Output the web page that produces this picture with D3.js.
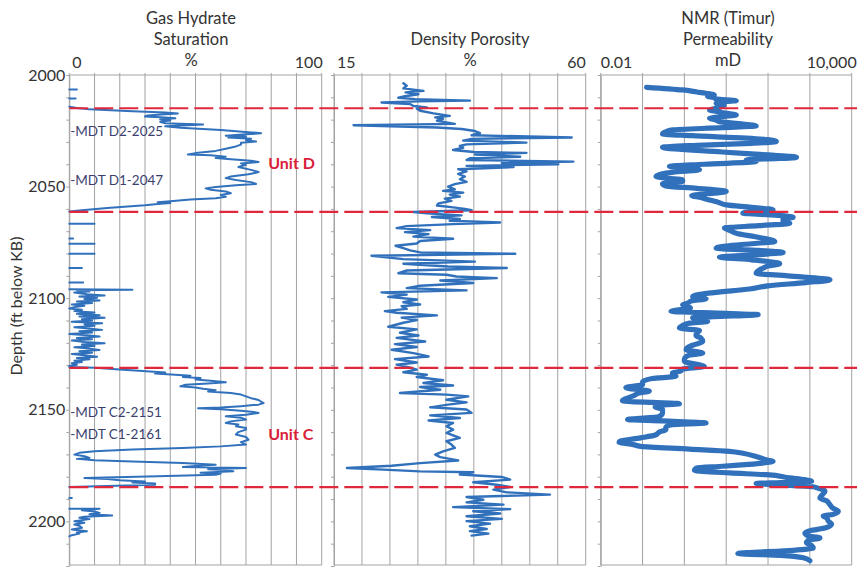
<!DOCTYPE html>
<html><head><meta charset="utf-8">
<script src="https://cdn.jsdelivr.net/npm/d3@7"></script>
<style>
body{margin:0;background:#fff;}
svg{display:block;font-family:Lato,"Open Sans",sans-serif;}
</style></head><body><svg id="chart" width="857" height="567"></svg>
<script>
// ---------- data ----------
const depthDomain = [2000, 2220];
const depthTicks = [2000, 2050, 2100, 2150, 2200];
const unitBoundaries = [2014.9, 2061.3, 2131.2, 2184.7];
const unitNames = ["Unit D", "Unit C"];
const mdtLabels = ["-MDT D2-2025", "-MDT D1-2047", "-MDT C2-2151", "-MDT C1-2161"];
const mdtDepths = [2025, 2047, 2151, 2161];

const ghTitle = ["Gas Hydrate", "Saturation", "%"];
const dpTitle = ["Density Porosity", "%"];
const nmrTitle = ["NMR (Timur)", "Permeability", "mD"];
const ghTickLabels = ["0", "100"];
const dpTickLabels = ["15", "60"];
const nmrTickLabels = ["0.01", "10,000"];

// Gas hydrate saturation (%) : [depth ft, value]; null = gap
const gasHydrate = [
 [2006.5,0],[2006.5,3],[2006.6,null],
 [2010.5,0],[2010.5,2.5],[2010.6,null],
 [2014.2,0],[2014.8,3],[2015.4,8],[2016.2,25],[2016.8,38],[2017.2,43],[2017.6,38],[2018.1,31],[2018.6,30],
 [2019.0,38],[2019.4,42],[2019.9,36],[2020.4,40],[2021.0,36],[2021.6,38],[2022.2,53],[2022.6,45],[2023.0,38],
 [2023.6,44],[2024.6,60],[2025.6,71],[2026.1,76],[2026.6,70],[2027.2,62],[2027.6,70],[2028.0,63],[2028.6,72],
 [2029.2,70],[2029.8,74],[2030.4,68],[2031.2,68],[2032.0,66],[2033.0,62],[2034.0,58],[2035.0,50],[2035.6,47],
 [2036.0,56],[2036.6,62],[2037.2,58],[2037.8,64],[2038.4,72],[2039.0,75],[2039.6,68],[2040.2,70],[2041.2,67],
 [2042.5,72],[2043.5,75],[2044.5,71],[2045.5,64],[2046.2,62],[2047.0,66],[2048.0,72],[2048.8,74],[2049.4,66],
 [2050.2,58],[2050.8,54],[2051.4,56],[2052.2,62],[2053.0,64],[2053.8,60],[2054.6,62],[2055.2,58],[2055.8,48],
 [2056.6,40],[2057.0,35],[2057.4,40],[2057.8,35],[2058.4,30],[2059.6,15],[2060.6,5],[2061.2,0],[2061.3,null],
 [2066.7,0],[2066.7,10],[2066.8,null],
 [2073.3,0],[2073.3,1.5],[2073.4,null],
 [2075.6,0],[2075.6,10],[2075.7,null],
 [2080.1,0],[2080.1,10],[2080.2,null],
 [2086.5,0],[2086.5,5],[2086.6,null],
 [2093.0,0],[2093.0,5.5],[2093.1,null],
 [2096.0,0],[2096.2,25],[2096.5,3],[2097.0,8],[2097.5,2],[2098.2,7],[2098.8,14],[2099.3,4],[2099.8,11],
 [2100.4,6],[2101.0,12],[2101.5,3],[2102.2,9],[2102.8,1],[2103.4,6],[2104.0,2],[2104.6,0],[2105.2,5],
 [2105.8,2],[2106.4,10],[2107.0,3],[2107.6,12],[2108.2,4],[2108.8,14],[2109.4,5],[2110.0,9],[2110.6,1],
 [2111.2,13],[2111.8,6],[2112.4,10],[2113.0,2],[2113.6,8],[2114.2,13],[2114.8,4],[2115.4,9],[2116.0,0],
 [2116.6,7],[2117.2,12],[2117.8,3],[2118.4,9],[2119.0,1],[2119.6,6],[2120.2,14],[2120.8,5],[2121.4,10],
 [2122.0,2],[2122.6,8],[2123.2,12],[2123.8,4],[2124.4,9],[2125.0,1],[2125.6,6],[2126.2,11],[2126.8,3],
 [2127.4,8],[2128.0,2],[2128.6,5],[2129.2,1],[2129.8,3],[2130.4,0],
 [2130.8,0],[2131.2,10],[2132.0,20],[2132.8,32],[2133.3,38],[2133.8,34],[2134.3,42],[2134.8,48],[2135.3,45],
 [2135.8,52],[2136.4,50],[2137.0,56],[2137.7,62],[2138.2,55],[2138.8,46],[2139.5,44],[2140.0,50],[2140.6,53],
 [2141.2,58],[2141.8,55],[2142.5,64],[2143.2,68],[2144.0,70],[2144.8,72],[2145.6,75],[2146.4,76],[2147.0,77],
 [2147.7,75],[2148.4,68],[2149.0,60],[2149.3,51],[2149.8,60],[2150.4,68],[2151.0,73],[2151.4,75],[2152.2,70],
 [2152.9,62],[2153.6,68],[2154.4,70],[2155.2,64],[2155.9,62],[2156.6,67],[2157.4,66],[2158.2,70],[2158.9,70],
 [2160.0,67],[2161.1,66],[2162.2,70],[2163.4,71],[2164.5,68],[2165.6,70],[2166.4,60],[2167.1,45],[2167.8,25],
 [2168.6,10],[2169.3,4],[2170.1,2],[2170.8,6],[2171.6,8],[2172.0,3],[2172.6,10],[2173.2,25],[2173.9,45],
 [2174.6,58],[2175.2,50],[2175.6,45],[2176.1,70],[2176.6,55],[2177.0,62],[2177.6,65],[2178.2,52],[2178.6,60],
 [2179.1,58],[2179.8,35],[2180.6,6],[2181.0,15],[2181.6,20],[2182.1,30],[2182.6,25],[2183.0,34],[2183.6,34],
 [2184.2,15],[2184.6,0],[2184.7,null],
 [2189.5,0],[2189.5,1],[2189.6,null],
 [2194.4,0],[2194.4,12],[2195.0,5],[2195.6,10],[2196.2,12],[2196.8,8],[2197.4,17],[2197.9,6],[2198.4,4],
 [2199.0,8],[2199.9,2],[2200.6,6],[2201.4,2],[2202.0,4],[2202.9,5],[2203.6,1],[2204.4,7],[2205.0,3],
 [2205.5,4],[2206.2,1],[2206.7,0]
];

// Density porosity (%) : [depth ft, value]
const densityPorosity = [
 [2003.7,27.4],[2004.8,28.0],[2006.0,27.4],[2007.1,31.0],[2007.8,27.8],[2008.6,30.1],[2009.5,27.7],[2010.2,26.5],
 [2010.8,29.5],[2011.5,39.3],[2011.8,30.0],[2012.3,23.5],[2013.0,28.6],[2013.9,29.2],[2014.5,31.6],[2015.1,29.8],
 [2016.0,30.4],[2017.2,32.8],[2018.3,35.7],[2019.0,33.1],[2019.7,34.5],[2020.5,33.4],[2021.2,35.1],[2021.9,36.6],
 [2022.5,18.5],[2023.5,33.4],[2024.2,37.8],[2025.1,40.2],[2026.0,41.1],[2027.0,39.6],[2028.0,57.5],[2028.6,39.6],
 [2029.4,38.1],[2030.3,49.4],[2031.1,38.7],[2031.8,37.5],[2032.6,38.1],[2033.6,36.3],[2034.5,40.0],[2034.9,49.4],
 [2035.6,40.2],[2036.6,48.3],[2037.3,39.3],[2038.1,38.7],[2038.8,57.8],[2039.5,45.0],[2040.0,55.1],[2040.7,38.7],
 [2041.3,47.1],[2042.2,37.2],[2043.2,38.7],[2044.3,37.2],[2045.5,38.4],[2046.7,37.5],[2047.9,38.7],[2048.9,36.6],
 [2050.0,35.4],[2051.2,36.6],[2051.9,34.5],[2052.7,38.1],[2053.6,35.7],[2054.5,37.5],[2055.4,34.8],[2056.4,36.0],
 [2057.5,33.7],[2058.5,33.4],[2059.3,36.3],[2060.0,38.4],[2060.6,39.6],[2061.4,29.2],[2062.0,31.6],[2062.9,37.8],
 [2063.6,32.5],[2064.5,37.5],[2065.3,35.7],[2066.1,44.7],[2066.8,36.3],[2067.7,28.0],[2068.6,26.2],[2069.5,32.2],
 [2070.4,27.7],[2071.3,31.9],[2072.4,29.2],[2073.4,36.3],[2074.4,30.4],[2075.5,29.8],[2076.5,26.0],[2077.6,27.4],
 [2078.6,28.6],[2079.5,30.4],[2080.1,47.4],[2081.0,21.7],[2082.5,27.4],[2083.6,40.2],[2084.6,27.4],[2085.8,35.4],
 [2086.5,45.9],[2087.6,28.0],[2088.8,26.5],[2089.5,35.1],[2090.3,36.9],[2091.0,44.1],[2092.1,34.0],[2093.2,39.9],
 [2094.4,30.4],[2095.5,28.0],[2096.5,38.7],[2097.4,23.5],[2098.4,28.0],[2099.4,24.7],[2100.6,29.8],[2101.8,27.4],
 [2102.8,30.4],[2103.6,27.1],[2104.8,28.0],[2105.8,24.1],[2106.5,26.2],[2107.7,33.4],[2108.7,27.1],[2109.8,29.8],
 [2111.0,27.4],[2112.8,24.7],[2114.0,29.8],[2115.5,26.8],[2116.7,30.1],[2117.8,26.2],[2119.4,31.3],[2120.6,25.9],
 [2121.9,29.8],[2123.1,25.3],[2124.6,29.2],[2126.1,31.9],[2127.3,25.9],[2128.8,29.8],[2129.8,26.2],[2130.9,28.3],
 [2132.0,29.8],[2133.2,27.4],[2134.3,31.6],[2135.3,29.8],[2136.8,34.5],[2138.0,31.0],[2139.1,36.3],[2139.8,30.4],
 [2141.0,34.0],[2142.5,26.8],[2143.2,35.1],[2144.0,39.0],[2145.5,35.1],[2146.7,38.7],[2147.7,35.4],[2148.9,32.2],
 [2149.9,38.7],[2151.4,39.6],[2152.5,32.2],[2153.7,37.5],[2154.8,31.9],[2155.9,36.3],[2157.4,35.1],[2158.9,36.3],
 [2160.4,35.1],[2162.6,37.5],[2164.1,35.1],[2165.6,36.0],[2167.1,36.6],[2168.6,34.5],[2170.1,33.1],[2171.2,34.0],
 [2172.7,37.2],[2173.9,30.4],[2175.1,25.3],[2176.1,17.3],[2176.8,23.8],[2177.6,30.4],[2178.0,39.9],[2179.0,37.5],
 [2180.1,45.0],[2181.3,46.5],[2182.5,39.9],[2183.6,44.1],[2184.6,46.5],[2185.8,43.5],[2187.0,45.9],[2188.0,53.6],
 [2189.1,38.7],[2190.3,41.7],[2191.5,38.7],[2192.5,45.3],[2193.6,36.3],[2194.5,46.5],[2195.5,39.9],[2196.5,44.7],
 [2197.7,38.7],[2198.9,45.0],[2199.9,38.7],[2201.0,42.9],[2202.2,39.3],[2203.4,42.3],[2204.4,39.3],[2205.5,42.6],
 [2206.4,39.6]
];

// NMR (Timur) permeability (mD) : [depth ft, value]
const nmrPermeability = [
 [2005.5,0.125],[2006.7,0.9],[2007.6,2.0],[2008.2,3.3],[2009.0,5.2],[2009.6,3.6],[2010.0,4.8],[2010.8,6.0],
 [2011.5,17.4],[2012.1,7],[2012.7,5.75],[2013.3,9],[2013.9,8.3],[2014.8,6],[2015.7,4.0],[2016.3,6],[2016.9,8.3],
 [2017.9,17.4],[2018.6,9],[2019.4,4.0],[2020.1,5.5],[2020.9,6.9],[2021.8,20],[2022.8,52],[2023.6,8],[2024.6,0.52],
 [2025.5,0.35],[2026.4,0.30],[2027.2,1.5],[2028.3,30],[2029.1,110],[2029.8,158],[2030.6,40],[2031.5,2],[2032.4,0.30],
 [2034.5,8],[2035.8,100],[2036.9,479],[2037.4,200],[2037.8,40],[2038.2,30],[2038.8,52],[2040.0,3],[2041.0,0.44],
 [2041.8,1.5],[2042.5,2.3],[2043.2,0.8],[2044.3,0.3],[2045.5,0.21],[2046.3,0.4],[2047.0,0.9],[2047.7,0.91],
 [2048.7,0.3],[2049.7,0.36],[2050.8,2],[2052.2,10],[2053.0,5],[2054.0,1.5],[2054.8,2.3],[2056.0,4],[2057.2,6.9],
 [2058.2,10],[2059.3,40],[2060.4,132],[2061.2,40],[2061.9,25],[2062.8,150],[2063.7,398],[2064.7,229],[2065.7,229],
 [2066.4,331],[2067.5,60],[2068.6,9.1],[2069.6,12],[2070.9,17.4],[2072.5,50],[2074.6,145],[2075.6,40],[2076.6,10],
 [2077.6,5.75],[2078.6,60],[2079.5,229],[2080.5,60],[2081.6,6.9],[2082.8,40],[2084.6,190],[2085.6,100],[2086.5,76],
 [2087.5,60],[2088.8,52],[2090.0,300],[2091.8,3020],[2093.0,800],[2094.5,100],[2095.9,36],[2097.5,5],[2099.2,1.58],
 [2100.3,3.3],[2101.2,1.5],[2102.2,1.2],[2102.9,0.91],[2104.4,1.4],[2105.9,0.48],[2106.8,10],[2107.4,58],[2108.3,5],
 [2108.8,1.58],[2109.7,2.5],[2110.4,3.6],[2111.2,1.32],[2112.3,0.9],[2113.4,0.76],[2114.5,2.3],[2115.6,2.0],
 [2116.8,1.9],[2117.9,2.5],[2119.4,2.75],[2120.6,1.9],[2121.2,1.5],[2123.1,1.1],[2124.6,2.75],[2125.8,1.2],
 [2127.5,1.0],[2128.3,1.0],[2130.6,3.0],[2131.8,0.9],[2132.7,0.8],[2133.5,0.52],[2134.3,0.52],[2135.0,0.63],
 [2136.0,0.17],[2137.5,0.1],[2138.8,0.1],[2140.0,0.04],[2141.0,0.08],[2141.6,0.145],[2142.5,0.083],[2143.8,0.06],
 [2145.0,0.04],[2146.0,0.033],[2147.3,0.76],[2148.0,0.21],[2148.8,0.2],[2149.7,0.30],[2151.4,0.30],[2153.0,0.25],
 [2154.4,0.044],[2155.0,0.3],[2155.9,3.3],[2156.7,0.5],[2157.8,0.36],[2158.9,0.36],[2160.0,0.25],[2161.2,0.21],
 [2162.6,0.09],[2164.0,0.03],[2164.6,0.0275],[2165.6,0.06],[2166.4,0.09],[2167.6,1.32],[2168.6,12],[2169.5,25],
 [2170.9,52],[2172.6,100],[2173.1,132],[2174.0,63],[2175.3,8.3],[2176.0,2],[2177.1,1.74],[2178.3,12],[2179.1,91],
 [2180.5,331],[2181.3,760],[2182.0,1100],[2182.6,200],[2183.0,52],[2183.5,110],[2184.5,1200],[2185.0,1500],
 [2186.5,2290],[2188.0,2000],[2189.5,1740],[2190.8,2500],[2192.5,3000],[2194.0,3500],[2195.5,4790],[2196.9,3500],
 [2197.6,2090],[2198.4,2510],[2200.0,2800],[2201.2,3310],[2202.9,2400],[2204.2,1000],[2205.2,760],[2206.5,900],
 [2207.4,1740],[2208.6,900],[2209.6,830],[2210.8,1100],[2211.9,1200],[2213.0,400],[2214.4,19],[2215.2,200],
 [2216.3,700],[2217.6,1000]
];

// ---------- drawing ----------
const svg = d3.select("#chart");
const TOP = 75, BOTTOM = 566;
const y = d3.scaleLinear().domain(depthDomain).range([TOP, BOTTOM]);
const gridColor = "#a3a3a3", lineBlue = "#3171bc", textColor = "#333";

const panels = [
  {title: ghTitle, labels: ghTickLabels, scale: d3.scaleLinear().domain([0,100]).range([69.3,321.7]),
   grid: d3.range(0,101,10), data: gasHydrate, width: 2, titleX: 191, labelDx: [3, 1]},
  {title: dpTitle, labels: dpTickLabels, scale: d3.scaleLinear().domain([15,60]).range([334,585.7]),
   grid: d3.range(15,61,5), data: densityPorosity, width: 2.4, titleX: 470, labelDx: [3, 0]},
  {title: nmrTitle, labels: nmrTickLabels, scale: d3.scaleLog().domain([0.01,10000]).range([600.7,851.7]),
   grid: [0.01,0.1,1,10,100,1000,10000], data: nmrPermeability, width: 5.2, titleX: 728, labelDx: [0, 5]}
];

panels.forEach((p, i) => {
  const g = svg.append("g");
  const x = p.scale;
  g.selectAll("line.grid").data(p.grid).join("line")
    .attr("x1", d => x(d)).attr("x2", d => x(d))
    .attr("y1", TOP - 2).attr("y2", y(2220) - 1)
    .attr("stroke", gridColor).attr("stroke-width", 1);
  [TOP, y(2220) - 1].forEach(yy => g.append("line")
    .attr("x1", x.range()[0]).attr("x2", x.range()[1]).attr("y1", yy).attr("y2", yy)
    .attr("stroke", gridColor).attr("stroke-width", 1));
  const ax = d3.axisLeft(y).tickValues(d3.range(2000, 2221, 10)).tickSize(3).tickSizeOuter(0).tickPadding(1)
    .tickFormat(d => (i === 0 && depthTicks.includes(d)) ? d : "");
  const axg = g.append("g").attr("transform", `translate(${x.range()[0]},0)`).call(ax);
  axg.select(".domain").attr("stroke", gridColor);
  axg.selectAll(".tick line").attr("stroke", gridColor);
  axg.selectAll(".tick text").attr("fill", textColor).style("font-size", "16px")
     .style("font-family", 'Lato,"Open Sans",sans-serif');
  const lines = p.title;
  const baseY = lines.length === 3 ? [24, 45, 66] : [45, 66];
  lines.forEach((t, k) => g.append("text").attr("x", p.titleX).attr("y", baseY[k])
    .attr("text-anchor", "middle").attr("fill", textColor).style("font-size", "16.5px").text(t));
  g.append("text").attr("x", x.range()[0] + p.labelDx[0]).attr("y", 68).attr("text-anchor", "start")
    .attr("fill", textColor).style("font-size", "16px").text(p.labels[0]);
  g.append("text").attr("x", x.range()[1] + p.labelDx[1]).attr("y", 68).attr("text-anchor", "end")
    .attr("fill", textColor).style("font-size", "16px").text(p.labels[1]);
  const line = d3.line().defined(d => d[1] != null).x(d => x(d[1])).y(d => y(d[0]));
  if (i === 2) line.curve(d3.curveMonotoneY);
  g.append("path").datum(p.data).attr("d", line).attr("fill", "none")
    .attr("stroke", lineBlue).attr("stroke-width", p.width)
    .attr("stroke-linejoin", "round").attr("stroke-linecap", "round");
});

svg.append("text").attr("transform", `translate(22,${306}) rotate(-90)`).attr("text-anchor", "middle")
  .attr("fill", textColor).style("font-size", "16px").text("Depth (ft below KB)");

const ghx = panels[0].scale;
svg.selectAll("text.mdt").data(mdtLabels).join("text")
  .attr("x", ghx(0) + 1).attr("y", (d, k) => y(mdtDepths[k])).attr("dy", "0.35em")
  .attr("fill", "#3c3f6e").style("font-size", "13.5px").text(d => d);

svg.selectAll("line.unit").data(unitBoundaries).join("line")
  .attr("x1", ghx(0)).attr("x2", 857).attr("y1", d => y(d)).attr("y2", d => y(d))
  .attr("stroke", "#e0283c").attr("stroke-width", 2.2).attr("stroke-dasharray", "19,6");

const unitDepths = [2042.2, 2163.4];
svg.selectAll("text.unit").data(unitNames).join("text")
  .attr("x", ghx(78.8)).attr("y", (d, k) => y(unitDepths[k]))
  .attr("fill", "#d9213a").style("font-size", "16px").style("font-weight", "bold").text(d => d);
</script></body></html>
